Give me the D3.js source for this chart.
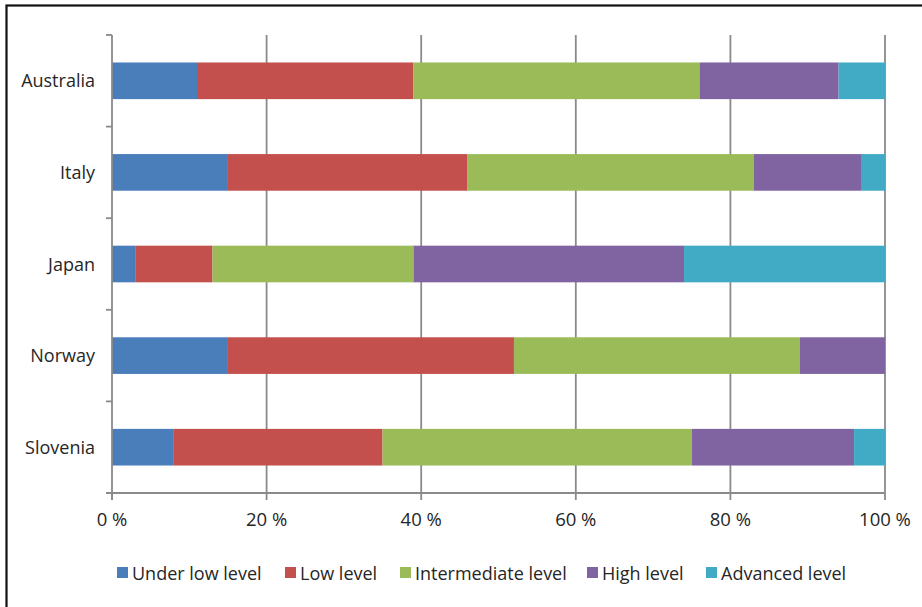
<!DOCTYPE html>
<html><head><meta charset="utf-8">
<script src="https://cdn.jsdelivr.net/npm/d3@7"></script>
<style>
html,body{margin:0;padding:0;background:#fff;}
svg text{font-family:"Open Sans","DejaVu Sans",sans-serif;fill:#262626;}
</style></head>
<body><svg id="c" width="922" height="607"></svg>
<script>
const categories = ["Australia","Italy","Japan","Norway","Slovenia"];
const seriesNames = ["Under low level","Low level","Intermediate level","High level","Advanced level"];
const underLow =     [11, 15, 3, 15, 8];
const low =          [28, 31, 10, 37, 27];
const intermediate = [37, 37, 26, 37, 40];
const high =         [18, 14, 35, 11, 21];
const advanced =     [6, 3, 26, 0, 4];
const xTicks = [0, 20, 40, 60, 80, 100];
const colors = ["#4a7ebb","#c4504d","#9bbb59","#8064a2","#41abc6"];

const svg = d3.select("#c");
svg.append("rect").attr("x",6.5).attr("y",5.5).attr("width",940).attr("height",640)
  .attr("fill","none").attr("stroke","#111").attr("stroke-width",2.2);

const pL = 112, pR = 885, pT = 35, pB = 493;
const x = d3.scaleLinear().domain([0,100]).range([pL,pR]);
const y = d3.scaleBand().domain(categories).range([pT,pB]).paddingInner(0.6).paddingOuter(0.3);

const rows = categories.map((c,i)=>({cat:c, underLow:underLow[i], low:low[i], intermediate:intermediate[i], high:high[i], advanced:advanced[i]}));
const keys = ["underLow","low","intermediate","high","advanced"];
const stacked = d3.stack().keys(keys)(rows);

// gridlines
svg.append("g").selectAll("line").data(xTicks.slice(1)).join("line")
  .attr("x1",d=>x(d)).attr("x2",d=>x(d)).attr("y1",pT).attr("y2",pB)
  .attr("stroke","#8a8a8a").attr("stroke-width",1.8);

// bars
svg.append("g").selectAll("g").data(stacked).join("g")
  .attr("fill",(d,i)=>colors[i])
  .selectAll("rect").data(d=>d).join("rect")
  .attr("x",d=>x(d[0])).attr("width",d=>x(d[1])-x(d[0]))
  .attr("y",d=>y(d.data.cat)).attr("height",y.bandwidth());

// y axis line and ticks
const ax = svg.append("g");
ax.append("line").attr("x1",pL).attr("x2",pL).attr("y1",pT).attr("y2",pB+7)
  .attr("stroke","#8a8a8a").attr("stroke-width",1.8);
const bounds = d3.range(categories.length+1).map(i=>pT + i*(pB-pT)/categories.length);
ax.selectAll("line.yt").data(bounds).join("line").attr("class","yt")
  .attr("x1",pL-6).attr("x2",pL).attr("y1",d=>d).attr("y2",d=>d)
  .attr("stroke","#8a8a8a").attr("stroke-width",1.8);
// x axis
ax.append("line").attr("x1",pL-6).attr("x2",pR).attr("y1",pB).attr("y2",pB)
  .attr("stroke","#8a8a8a").attr("stroke-width",1.8);
ax.selectAll("line.xt").data(xTicks).join("line").attr("class","xt")
  .attr("x1",d=>x(d)).attr("x2",d=>x(d)).attr("y1",pB).attr("y2",pB+7)
  .attr("stroke","#8a8a8a").attr("stroke-width",1.8);
ax.selectAll("text.xl").data(xTicks).join("text").attr("class","xl")
  .attr("x",d=>x(d)).attr("y",526).attr("text-anchor","middle")
  .attr("font-size",18.5).text(d=>d+" %");
ax.selectAll("text.yl").data(categories).join("text").attr("class","yl")
  .attr("x",95).attr("y",d=>y(d)+y.bandwidth()/2+6.5).attr("text-anchor","end")
  .attr("font-size",18).text(d=>d);

// legend
const legX = [117, 285, 400, 587, 706];
const leg = svg.append("g").selectAll("g").data(seriesNames).join("g")
  .attr("transform",(d,i)=>`translate(${legX[i]},567)`);
leg.append("rect").attr("width",11).attr("height",11).attr("fill",(d,i)=>colors[i]);
leg.append("text").attr("x",15).attr("y",12.5).attr("font-size",18).text(d=>d);
</script></body></html>
